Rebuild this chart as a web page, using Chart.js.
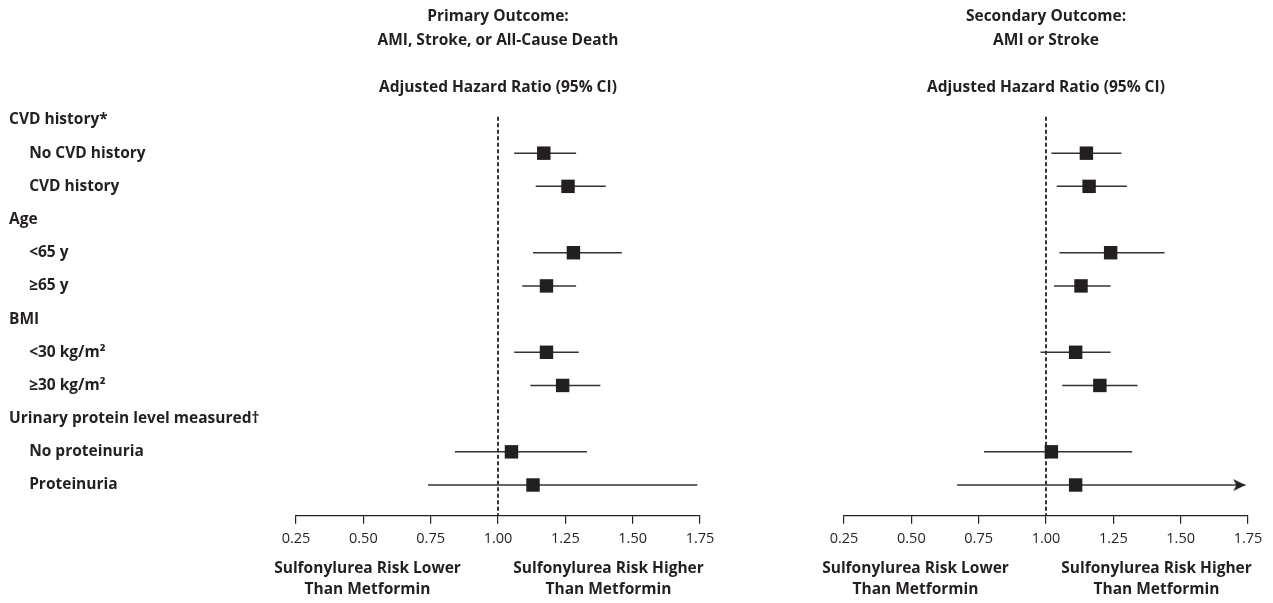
<!DOCTYPE html>
<html><head><meta charset="utf-8">
<script src="https://cdn.jsdelivr.net/npm/chart.js@4.4.1/dist/chart.umd.min.js"></script>
<style>
html,body{margin:0;padding:0;background:#fff;}
#wrap{position:relative;width:1273px;height:603px;overflow:hidden;background:#fff;}
#c1{position:absolute;left:0;top:0;}
#c2{position:absolute;left:740px;top:0;}
</style></head><body>
<div id="wrap"><canvas id="c1" width="740" height="603"></canvas><canvas id="c2" width="533" height="603"></canvas></div>
<script>
// ---------- data ----------
const rowLabels = ['CVD history*', 'No CVD history', 'CVD history', 'Age', '<65 y', '\u226565 y',
  'BMI', '<30 kg/m\u00b2', '\u226530 kg/m\u00b2', 'Urinary protein level measured\u2020', 'No proteinuria', 'Proteinuria'];
const rowIndent = [0, 1, 1, 0, 1, 1, 0, 1, 1, 0, 1, 1];
const xTicks = [0.25, 0.50, 0.75, 1.00, 1.25, 1.50, 1.75];
const referenceHR = 1.0;

const primaryTitle = ['Primary Outcome:', 'AMI, Stroke, or All-Cause Death', '', 'Adjusted Hazard Ratio (95% CI)'];
const primaryHR = [null, 1.17, 1.26, null, 1.28, 1.18, null, 1.18, 1.24, null, 1.05, 1.13];
const primaryLo = [null, 1.06, 1.14, null, 1.13, 1.09, null, 1.06, 1.12, null, 0.84, 0.74];
const primaryHi = [null, 1.29, 1.40, null, 1.46, 1.29, null, 1.30, 1.38, null, 1.33, 1.74];
const primaryOffScale = [false, false, false, false, false, false, false, false, false, false, false, false];

const secondaryTitle = ['Secondary Outcome:', 'AMI or Stroke', '', 'Adjusted Hazard Ratio (95% CI)'];
const secondaryHR = [null, 1.15, 1.16, null, 1.24, 1.13, null, 1.11, 1.20, null, 1.02, 1.11];
const secondaryLo = [null, 1.02, 1.04, null, 1.05, 1.03, null, 0.98, 1.06, null, 0.77, 0.67];
const secondaryHi = [null, 1.28, 1.30, null, 1.44, 1.24, null, 1.24, 1.34, null, 1.32, 1.74];
const secondaryOffScale = [false, false, false, false, false, false, false, false, false, false, false, true];

const captionLower = ['Sulfonylurea Risk Lower', 'Than Metformin'];
const captionHigher = ['Sulfonylurea Risk Higher', 'Than Metformin'];

// ---------- styling ----------
const INK = '#231f20';
const FONT = "'Open Sans', 'DejaVu Sans', sans-serif";
const BOLD_SIZE = 15.5;
const Y_MIN = -0.1, Y_MAX = 11.925;

// arrowhead image (tip at the image centre)
function makeArrow() {
  const c = document.createElement('canvas');
  c.width = 26; c.height = 14;
  const g = c.getContext('2d');
  g.fillStyle = INK;
  g.beginPath();
  g.moveTo(13, 7); g.lineTo(1, 1); g.lineTo(4, 7); g.lineTo(1, 13); g.closePath();
  g.fill();
  return c;
}
const arrowImg = makeArrow();

const captionPlugin = {
  id: 'captions',
  afterDraw(chart) {
    const {ctx, chartArea} = chart;
    ctx.save();
    ctx.font = 'bold ' + BOLD_SIZE + 'px ' + FONT;
    ctx.fillStyle = INK;
    ctx.textAlign = 'center';
    ctx.textBaseline = 'middle';
    const y0 = chartArea.bottom + 52.6, dy = 21.7;
    captionLower.forEach((t, i) => ctx.fillText(t, chartArea.left + 71.5, y0 + i * dy));
    captionHigher.forEach((t, i) => ctx.fillText(t, chartArea.right - 91.5, y0 + i * dy));
    ctx.restore();
  }
};

function buildChart(id, title, hr, lo, hi, off, showLabels, padLeft, padRight) {
  const datasets = [];
  // reference line at HR = 1
  datasets.push({
    type: 'line', data: [{x: referenceHR, y: Y_MIN}, {x: referenceHR, y: Y_MAX}],
    borderColor: INK, borderWidth: 1.8, borderDash: [4, 2.5], pointRadius: 0, order: 5, clip: false
  });
  // CI lines
  hr.forEach((v, i) => {
    if (v === null) return;
    datasets.push({
      type: 'line', data: [{x: lo[i], y: i}, {x: hi[i], y: i}],
      borderColor: '#333', borderWidth: 1.5, pointRadius: 0, order: 3, clip: false
    });
    if (off[i]) {
      datasets.push({
        type: 'scatter', data: [{x: hi[i], y: i}], pointStyle: arrowImg, pointRadius: 7,
        order: 2, clip: false
      });
    }
  });
  // point estimates
  datasets.push({
    type: 'scatter',
    data: hr.map((v, i) => v === null ? null : {x: v, y: i}).filter(p => p),
    pointStyle: 'rect', pointRadius: 9.5, backgroundColor: INK, borderColor: INK, borderWidth: 0,
    order: 0, clip: false
  });

  return new Chart(document.getElementById(id), {
    type: 'scatter',
    data: {datasets},
    plugins: [captionPlugin],
    options: {
      responsive: false, animation: false, events: [],
      layout: {padding: {left: padLeft, right: padRight, top: 0, bottom: 0}},
      plugins: {
        legend: {display: false}, tooltip: {enabled: false},
        title: {
          display: true, text: title, fullSize: false, align: 'center', color: INK,
          font: {family: FONT, size: BOLD_SIZE, weight: 'bold', lineHeight: 23.52 / BOLD_SIZE},
          padding: {top: 4.9, bottom: 17.7}
        }
      },
      scales: {
        x: {
          type: 'linear', min: xTicks[0], max: xTicks[xTicks.length - 1],
          afterBuildTicks: s => { s.ticks = xTicks.map(v => ({value: v})); },
          afterFit: s => { s.height = 87.3; },
          ticks: {
            callback: v => Number(v).toFixed(2), color: INK, padding: 6,
            font: {family: FONT, size: 14.5}, maxRotation: 0, autoSkip: false
          },
          grid: {drawOnChartArea: false, drawTicks: true, tickLength: 8, color: INK, lineWidth: 1.2},
          border: {display: true, color: INK, width: 1.2}
        },
        y: {
          type: 'linear', reverse: true, min: Y_MIN, max: Y_MAX, display: showLabels,
          afterBuildTicks: s => { s.ticks = rowLabels.map((_, i) => ({value: i})); },
          afterFit: s => { s.width = showLabels ? 296 - padLeft : 0; },
          ticks: {
            callback: (v) => (rowIndent[v] ? '     ' : '') + rowLabels[v],
            crossAlign: 'far', color: INK, padding: 0, autoSkip: false,
            font: {family: FONT, size: BOLD_SIZE, weight: 'bold'}
          },
          grid: {display: false, drawTicks: false},
          border: {display: false}
        }
      }
    }
  });
}

buildChart('c1', primaryTitle, primaryHR, primaryLo, primaryHi, primaryOffScale, true, 9, 40);
buildChart('c2', secondaryTitle, secondaryHR, secondaryLo, secondaryHi, secondaryOffScale, false, 104, 25);
</script>
</body></html>
